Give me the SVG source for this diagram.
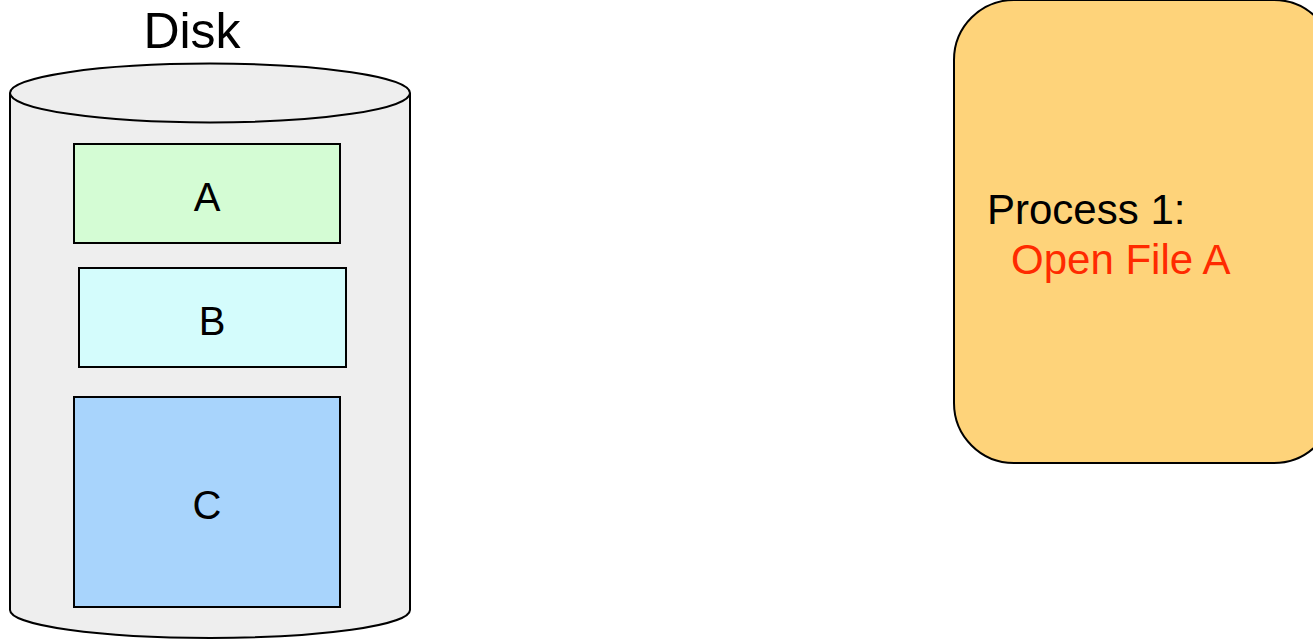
<svg xmlns="http://www.w3.org/2000/svg" width="1313" height="640" viewBox="0 0 1313 640">
<style>
.t{font-family:"Liberation Sans",Arial,sans-serif;fill:#000}
.s{stroke:#000;stroke-width:2}
</style>
<rect width="1313" height="640" fill="#fff"/>
<g id="disk">
<path class="s" d="M10,93 L10,610 A200,28 0 0 0 410,610 L410,93" fill="#eeeeee"/>
<ellipse class="s" cx="210" cy="93" rx="200" ry="29.5" fill="#eeeeee"/>
<text class="t" x="192" y="48" font-size="50" text-anchor="middle">Disk</text>
</g>
<g id="fileA">
<rect class="s" x="74" y="144" width="266" height="99" fill="#d4fcd4" stroke-width="1.5"/>
<text class="t" x="207" y="211" font-size="40" text-anchor="middle">A</text>
</g>
<g id="fileB">
<rect class="s" x="79" y="268" width="267" height="99" fill="#d4fcfc" stroke-width="1.5"/>
<text class="t" x="212" y="335" font-size="40" text-anchor="middle">B</text>
</g>
<g id="fileC">
<rect class="s" x="74" y="397" width="266" height="210" fill="#a8d4fc" stroke-width="1.5"/>
<text class="t" x="207" y="519" font-size="40" text-anchor="middle">C</text>
</g>
<g id="process1">
<rect class="s" x="954" y="0" width="380" height="463" rx="60" ry="60" fill="#fed37a"/>
<text class="t" x="987" y="224" font-size="42">Process 1:</text>
<text class="t" x="1011" y="274" font-size="42" style="fill:#ff2a00">Open File A</text>
</g>
<g id="connectors"/>
</svg>
